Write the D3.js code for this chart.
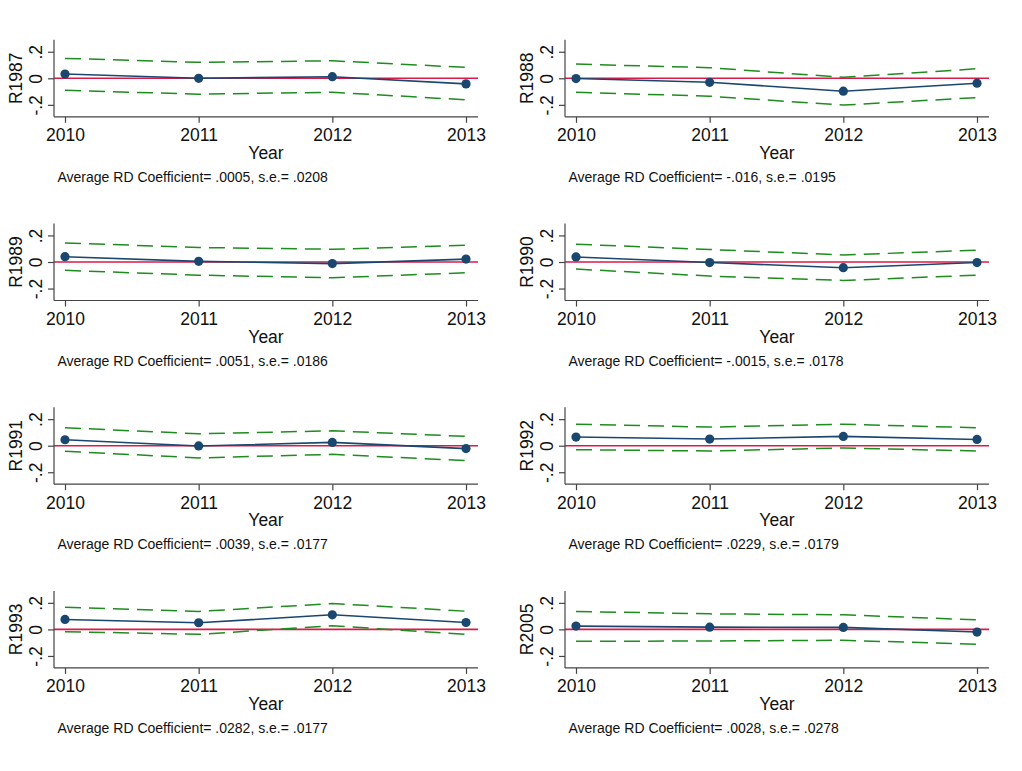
<!DOCTYPE html>
<html>
<head>
<meta charset="utf-8">
<script src="https://cdn.jsdelivr.net/npm/d3@7"></script>
<style>
  html, body { margin: 0; padding: 0; background: #fff; }
  svg { display: block; font-family: "Liberation Sans", Arial, Helvetica, sans-serif; }
</style>
</head>
<body>
<svg id="chart" width="1022" height="771"></svg>
<script>
const years = [2010, 2011, 2012, 2013];
const panelNames = ["R1987", "R1988", "R1989", "R1990", "R1991", "R1992", "R1993", "R2005"];
const coefs = [
  [0.032, 0.000, 0.012, -0.042],
  [-0.002, -0.030, -0.097, -0.037],
  [0.040, 0.005, -0.012, 0.022],
  [0.038, -0.004, -0.043, -0.004],
  [0.045, -0.002, 0.025, -0.022],
  [0.065, 0.050, 0.070, 0.047],
  [0.075, 0.050, 0.110, 0.052],
  [0.025, 0.017, 0.015, -0.020]
];
const upperCI = [
  [0.150, 0.120, 0.132, 0.082],
  [0.107, 0.080, 0.007, 0.072],
  [0.144, 0.109, 0.096, 0.126],
  [0.134, 0.094, 0.053, 0.089],
  [0.135, 0.090, 0.112, 0.070],
  [0.162, 0.140, 0.162, 0.135],
  [0.167, 0.135, 0.195, 0.137],
  [0.135, 0.117, 0.110, 0.072]
];
const lowerCI = [
  [-0.090, -0.120, -0.105, -0.162],
  [-0.105, -0.135, -0.202, -0.145],
  [-0.063, -0.099, -0.119, -0.081],
  [-0.053, -0.106, -0.139, -0.099],
  [-0.042, -0.092, -0.065, -0.112],
  [-0.030, -0.040, -0.017, -0.040],
  [-0.017, -0.037, 0.027, -0.037],
  [-0.090, -0.087, -0.082, -0.112]
];
const notes = [
  "Average RD Coefficient= .0005, s.e.= .0208",
  "Average RD Coefficient= -.016, s.e.= .0195",
  "Average RD Coefficient= .0051, s.e.= .0186",
  "Average RD Coefficient= -.0015, s.e.= .0178",
  "Average RD Coefficient= .0039, s.e.= .0177",
  "Average RD Coefficient= .0229, s.e.= .0179",
  "Average RD Coefficient= .0282, s.e.= .0177",
  "Average RD Coefficient= .0028, s.e.= .0278"
];
const yTicks = [-0.2, 0, 0.2];
const yTickLabels = ["-.2", "0", ".2"];
const xTitle = "Year";

const svg = d3.select("#chart");
const colLeft = [54, 565];
const plotW = 424;
const plotH = 77;
const rowTop0 = 39.8, rowStep = 183.7;

const navy = "#1a476f", green = "#1e8c1e", red = "#d81b48", axisCol = "#444";
const bigFont = 17.5;

panelNames.forEach((name, i) => {
  const col = i % 2, row = Math.floor(i / 2);
  const g = svg.append("g").attr("transform", `translate(${colLeft[col]},${rowTop0 + row * rowStep})`);
  const x = d3.scaleLinear().domain([2010, 2013]).range([11, plotW - 12]);
  const y = d3.scaleLinear().domain([-0.29, 0.29]).range([plotH, 0]);

  // zero reference line
  g.append("line").attr("x1", 0).attr("x2", plotW).attr("y1", y(0)).attr("y2", y(0))
    .attr("stroke", red).attr("stroke-width", 1.6);

  // CI lines
  const line = d3.line().x((d, j) => x(years[j])).y(d => y(d));
  [upperCI[i], lowerCI[i]].forEach(arr => {
    g.append("path").attr("d", line(arr)).attr("fill", "none")
      .attr("stroke", green).attr("stroke-width", 1.5).attr("stroke-dasharray", "16,8");
  });

  // coefficient line
  g.append("path").attr("d", line(coefs[i])).attr("fill", "none")
    .attr("stroke", navy).attr("stroke-width", 1.6);
  g.selectAll("circle.pt").data(coefs[i]).enter().append("circle")
    .attr("cx", (d, j) => x(years[j])).attr("cy", d => y(d)).attr("r", 4.6).attr("fill", navy);

  // axes
  const yAxis = d3.axisLeft(y).tickValues(yTicks).tickSize(6).tickFormat((d, k) => yTickLabels[k]);
  const ya = g.append("g").call(yAxis);
  ya.select(".domain").attr("d", `M0,0V${plotH}`).attr("stroke", axisCol).attr("stroke-width", 1.2);
  ya.selectAll(".tick line").attr("stroke", axisCol).attr("stroke-width", 1.2);
  ya.selectAll(".tick text")
    .attr("font-size", bigFont).attr("fill", "#111")
    .attr("x", null).attr("dy", null)
    .attr("text-anchor", "middle")
    .attr("transform", "translate(-12,0) rotate(-90)");

  const xAxis = d3.axisBottom(x).tickValues(years).tickSize(6).tickFormat(d3.format("d"));
  const xa = g.append("g").attr("transform", `translate(0,${plotH})`).call(xAxis);
  xa.select(".domain").attr("d", `M0,0H${plotW}`).attr("stroke", axisCol).attr("stroke-width", 1.2);
  xa.selectAll(".tick line").attr("stroke", axisCol).attr("stroke-width", 1.2);
  xa.selectAll(".tick text").attr("font-size", bigFont).attr("fill", "#111")
    .attr("y", 24.5).attr("dy", null);

  // y title
  g.append("text").attr("transform", `translate(-32,${y(0)}) rotate(-90)`)
    .attr("text-anchor", "middle").attr("font-size", bigFont).attr("fill", "#111").text(name);
  // x title
  g.append("text").attr("x", plotW / 2).attr("y", plotH + 42).attr("text-anchor", "middle")
    .attr("font-size", bigFont).attr("fill", "#111").text(xTitle);
  // note
  g.append("text").attr("x", 3.5).attr("y", plotH + 65)
    .attr("font-size", 14).attr("fill", "#111").text(notes[i]);
});
</script>
</body>
</html>
